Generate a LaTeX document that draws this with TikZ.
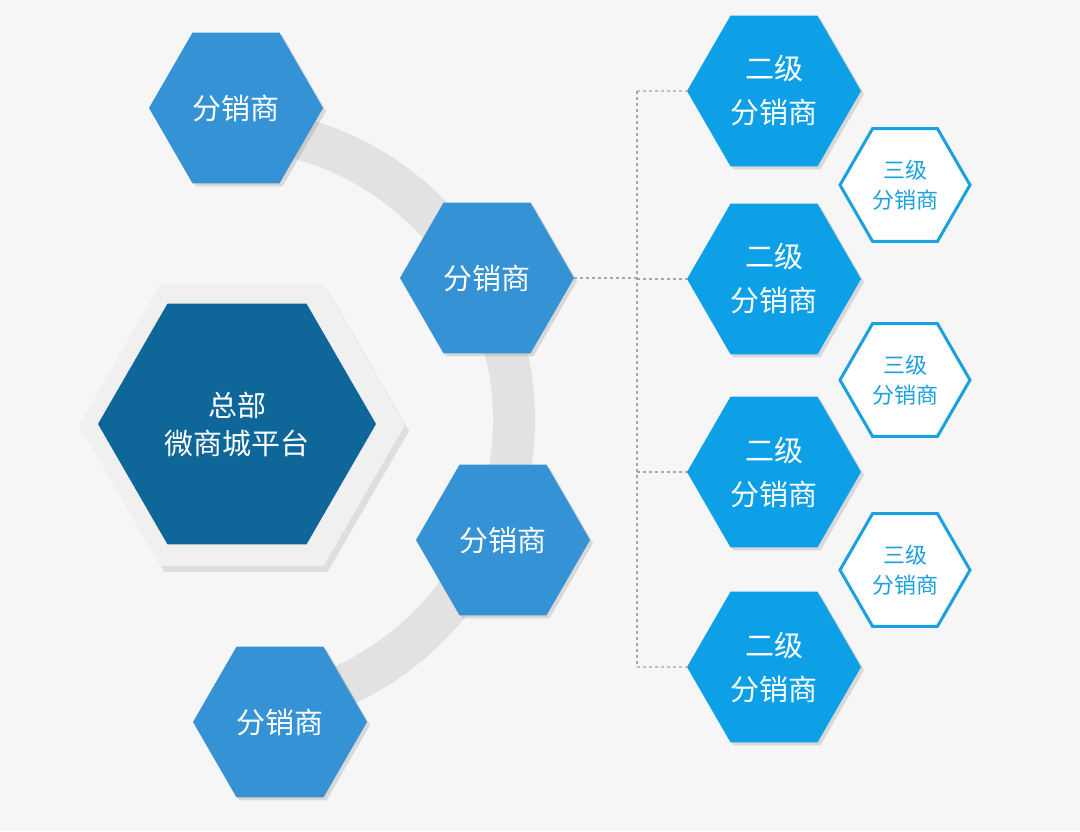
\documentclass[tikz,border=0pt]{standalone}
\usepackage{fontspec}
\newfontfamily\cjk{Noto Sans CJK SC}
\usetikzlibrary{shapes.geometric,shadows}
\definecolor{bg}{HTML}{F6F6F6}
\definecolor{blueA}{HTML}{3592D4}
\definecolor{blueB}{HTML}{0DA0E6}
\definecolor{blueC}{HTML}{1BA0E0}
\definecolor{darkB}{HTML}{0E6699}
\definecolor{ring}{HTML}{E2E2E2}
\tikzset{
 hex/.style={regular polygon,regular polygon sides=6,inner sep=0pt,text=white,align=center,font=\cjk\fontsize{29}{38}\selectfont},
 distA/.style={hex,fill=blueA,minimum size=174pt,drop shadow={shadow xshift=3pt,shadow yshift=-3pt,opacity=0.25}},
 distB/.style={hex,fill=blueB,minimum size=174pt,drop shadow={shadow xshift=3pt,shadow yshift=-3pt,opacity=0.25}},
 distC/.style={hex,fill=white,draw=blueC,line width=3pt,minimum size=130pt,text=blueC,font=\cjk\fontsize{22}{30}\selectfont},
 conn/.style={draw=gray!70,dashed,line width=1.2pt}
}
\begin{document}
\begin{tikzpicture}[x=1pt,y=-1pt]
\fill[bg] (0,0) rectangle (1080,831);
\useasboundingbox (0,0) rectangle (1080,831);
\draw[line width=42pt,ring] (222,420) ++(-80:292) arc[start angle=-80,end angle=80,radius=292];
\node[hex,fill=gray!12,minimum size=326pt,drop shadow={shadow xshift=4pt,shadow yshift=-6pt,opacity=0.2}] (hqo) at (242,425) {};
\node[hex,fill=darkB,minimum size=278pt] (hq) at (237,424) {总部\\微商城平台};
\node[distA] (h1) at (236,108) {分销商};
\node[distA] (h2) at (487,278) {分销商};
\node[distA] (h3) at (503,540) {分销商};
\node[distA] (h4) at (280,722) {分销商};
\node[distB,font=\cjk\fontsize{29}{44}\selectfont] (s1) at (774,91) {二级\\分销商};
\node[distB,font=\cjk\fontsize{29}{44}\selectfont] (s2) at (774,279) {二级\\分销商};
\node[distB,font=\cjk\fontsize{29}{44}\selectfont] (s3) at (774,472) {二级\\分销商};
\node[distB,font=\cjk\fontsize{29}{44}\selectfont] (s4) at (774,667) {二级\\分销商};
\node[distC] (t1) at (905,185) {三级\\分销商};
\node[distC] (t2) at (905,380) {三级\\分销商};
\node[distC] (t3) at (905,570) {三级\\分销商};
\coordinate (j1) at (637,91);
\coordinate (j4) at (637,667);
\draw[conn] (h2.east) -- (h2.east -| j1);
\draw[conn] (j1) -- (j4);
\draw[conn] (j1) -- (s1.west);
\draw[conn] (s2.west -| j1) -- (s2.west);
\draw[conn] (s3.west -| j1) -- (s3.west);
\draw[conn] (j4) -- (s4.west);
\end{tikzpicture}
\end{document}
